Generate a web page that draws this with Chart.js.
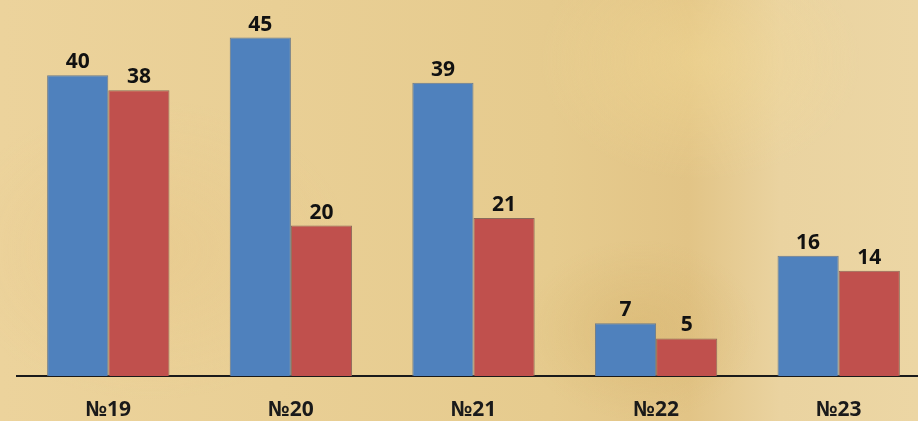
<!DOCTYPE html>
<html>
<head>
<meta charset="utf-8">
<script src="https://cdn.jsdelivr.net/npm/chart.js@4"></script>
<style>
  html, body { margin: 0; padding: 0; overflow: hidden; width: 918px; height: 421px; }
  body {
    background:
      radial-gradient(ellipse 120px 90px at 640px 330px, rgba(200,160,80,0.25), rgba(200,160,80,0) 100%),
      radial-gradient(ellipse 160px 120px at 700px 60px, rgba(245,220,150,0.45), rgba(245,220,150,0) 100%),
      radial-gradient(ellipse 200px 150px at 150px 250px, rgba(230,195,130,0.35), rgba(230,195,130,0) 100%),
      linear-gradient(90deg, #ecd39c 0%, #e9cf95 30%, #e6cb8e 60%, #e2c486 75%, #ead3a0 85%, #ecd6a4 100%);
  }
  #wrap { position: absolute; left: 0; top: 0; width: 930px; height: 421px; }
</style>
</head>
<body>
<div id="wrap"><canvas id="chart"></canvas></div>
<script>
document.addEventListener('DOMContentLoaded', () => {
  const categories = ['№19', '№20', '№21', '№22', '№23'];
  const seriesBlue = [40, 45, 39, 7, 16];
  const seriesRed = [38, 20, 21, 5, 14];

  const valueLabels = {
    id: 'valueLabels',
    afterDatasetsDraw(chart) {
      const ctx = chart.ctx;
      ctx.save();
      ctx.font = 'bold 21px "Open Sans", "DejaVu Sans", sans-serif';
      ctx.fillStyle = '#111';
      ctx.textAlign = 'center';
      ctx.textBaseline = 'alphabetic';
      chart.data.datasets.forEach((ds, i) => {
        chart.getDatasetMeta(i).data.forEach((bar, j) => {
          ctx.fillText(ds.data[j], bar.x, bar.y - 7);
        });
      });
      ctx.restore();
    }
  };

  const ctx = document.getElementById('chart').getContext('2d');
  new Chart(ctx, {
    type: 'bar',
    data: {
      labels: categories,
      datasets: [{
        data: seriesBlue,
        backgroundColor: '#4f81bd',
        borderColor: '#6b7a8a',
        borderWidth: 1,
        categoryPercentage: 0.67,
        barPercentage: 1.0
      }, {
        data: seriesRed,
        backgroundColor: '#c0504d',
        borderColor: '#8a6a5a',
        borderWidth: 1,
        categoryPercentage: 0.67,
        barPercentage: 1.0
      }]
    },
    options: {
      responsive: true,
      maintainAspectRatio: false,
      animation: false,
      layout: { padding: { left: 17, right: 0, top: 0, bottom: 0 } },
      plugins: { legend: { display: false }, tooltip: { enabled: false } },
      scales: {
        x: {
          grid: { display: false },
          border: { display: true, color: '#1a1a1a', width: 2 },
          ticks: {
            color: '#1a1a1a',
            padding: 13,
            font: { family: '"Open Sans", "DejaVu Sans", sans-serif', size: 21, weight: 'bold' }
          },
          afterFit(scale) { scale.height = 45; }
        },
        y: {
          display: false,
          min: 0,
          max: 50
        }
      }
    },
    plugins: [valueLabels]
  });
});
</script>
</body>
</html>
